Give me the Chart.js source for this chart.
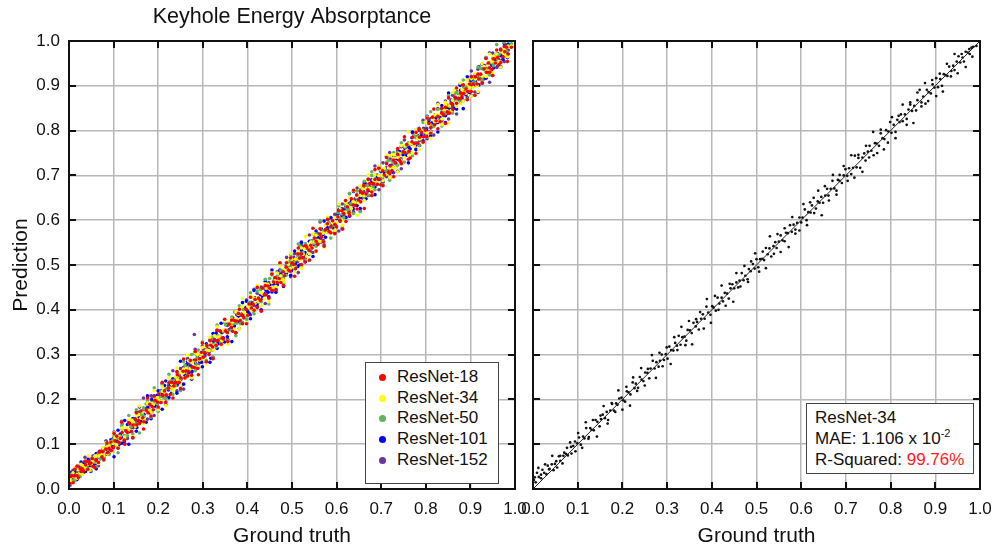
<!DOCTYPE html>
<html><head><meta charset="utf-8">
<script src="https://cdn.jsdelivr.net/npm/chart.js@4/dist/chart.umd.min.js"></script>
<style>
html,body{margin:0;padding:0;background:#fff}
body{width:995px;height:552px;overflow:hidden;position:relative;font-family:"Liberation Sans",Arial,sans-serif;color:#111}
#c1{position:absolute;left:0;top:0}
#c2{position:absolute;left:505px;top:0}
.box{position:absolute;background:#fff;border:1px solid #444;font-size:17px;color:#111;box-sizing:border-box}
#legend{left:365px;top:362px;width:134px;height:122px;padding-top:4px}
#legend .row{height:20.7px;line-height:20.7px;position:relative;padding-left:31px;white-space:nowrap}
#legend .dot{position:absolute;left:13px;top:7px;width:7px;height:7px;border-radius:50%}
#note{left:806px;top:403px;width:168px;height:71px;padding:4px 0 0 8px;line-height:20.5px;white-space:nowrap}
#note sup{font-size:11px;vertical-align:0;position:relative;top:-7px}
</style>
</head><body>
<canvas id="c1" width="539" height="552"></canvas>
<canvas id="c2" width="499" height="552"></canvas>
<div id="legend" class="box"></div>
<div id="note" class="box"></div>
<script>
const chartTitle = 'Keyhole Energy Absorptance';
const xTitle = 'Ground truth';
const yTitle = 'Prediction';
const modelNames = ['ResNet-18','ResNet-34','ResNet-50','ResNet-101','ResNet-152'];
const modelColors = ['#ff0000','#ffff00','#5fb55a','#0000ff','#6a35a0'];
const tickLabels = ['0.0','0.1','0.2','0.3','0.4','0.5','0.6','0.7','0.8','0.9','1.0'];
const noteModel = 'ResNet-34';
const noteMAE = ['1.106', '-2'];
const noteR2 = '99.76%';
const identityLine = [0, 1];

const groundTruth = [
0.002,0.006,0.009,0.013,0.018,0.021,0.025,0.030,0.033,0.037,0.042,0.046,
0.049,0.054,0.058,0.061,0.066,0.070,0.074,0.078,0.083,0.086,0.090,0.095,
0.099,0.103,0.107,0.112,0.115,0.119,0.124,0.128,0.131,0.136,0.140,0.144,
0.149,0.152,0.156,0.161,0.165,0.168,0.173,0.177,0.181,0.186,0.189,0.193,
0.198,0.202,0.206,0.210,0.214,0.218,0.223,0.227,0.230,0.235,0.239,0.243,
0.247,0.251,0.256,0.260,0.263,0.268,0.272,0.276,0.281,0.284,0.288,0.293,
0.297,0.301,0.305,0.309,0.314,0.318,0.322,0.326,0.330,0.334,0.339,0.343,
0.346,0.351,0.355,0.359,0.364,0.367,0.371,0.376,0.380,0.384,0.388,0.392,
0.397,0.401,0.404,0.409,0.413,0.417,0.422,0.425,0.429,0.434,0.438,0.442,
0.446,0.450,0.455,0.459,0.462,0.467,0.471,0.475,0.480,0.483,0.487,0.492,
0.496,0.500,0.504,0.508,0.513,0.517,0.521,0.525,0.529,0.533,0.538,0.542,
0.545,0.550,0.554,0.558,0.563,0.566,0.570,0.575,0.579,0.583,0.587,0.591,
0.596,0.600,0.603,0.608,0.612,0.616,0.621,0.624,0.628,0.633,0.637,0.641,
0.645,0.649,0.654,0.658,0.661,0.666,0.670,0.674,0.679,0.682,0.686,0.691,
0.695,0.699,0.703,0.707,0.712,0.716,0.720,0.724,0.728,0.732,0.737,0.741,
0.744,0.749,0.753,0.757,0.762,0.765,0.769,0.774,0.778,0.782,0.786,0.790,
0.795,0.799,0.802,0.807,0.811,0.815,0.820,0.823,0.827,0.832,0.836,0.840,
0.844,0.848,0.853,0.857,0.860,0.865,0.869,0.873,0.878,0.881,0.885,0.890,
0.894,0.898,0.902,0.906,0.911,0.915,0.919,0.923,0.927,0.931,0.936,0.940,
0.943,0.948,0.952,0.956,0.961,0.964,0.968,0.973,0.977,0.981,0.985,0.992,
0.004,0.012,0.018,0.027,0.036,0.043,0.052,0.061,0.068,0.076,0.085,0.094,
0.101,0.110,0.118,0.125,0.134,0.143,0.151,0.158,0.167,0.176,0.184,0.191,
0.200,0.209,0.217,0.224,0.233,0.242,0.250,0.257,0.266,0.275,0.283,0.290,
0.299,0.308,0.316,0.323,0.332,0.341,0.349,0.356,0.365,0.374,0.382,0.389,
0.398,0.407,0.415,0.422,0.431,0.440,0.448,0.455,0.464,0.473,0.481,0.488,
0.497,0.506,0.514,0.521,0.530,0.539,0.547,0.554,0.563,0.572,0.580,0.587,
0.596,0.605,0.613,0.620,0.629,0.638,0.646,0.653,0.662,0.671,0.679,0.686,
0.695,0.704,0.712,0.719,0.728,0.737,0.745,0.752,0.761,0.770,0.778,0.785,
0.794,0.803,0.811,0.818,0.827,0.836,0.844,0.851,0.860,0.869,0.877,0.884,
0.893,0.902,0.910,0.917,0.926,0.935,0.943,0.950,0.959,0.968,0.976,0.983];

const predResNet18 = [
0.012,0.030,0.014,0.044,0.030,0.025,0.045,0.045,0.040,0.054,0.044,0.056,
0.058,0.050,0.048,0.064,0.059,0.084,0.072,0.065,0.089,0.081,0.091,0.086,
0.093,0.107,0.118,0.104,0.113,0.126,0.109,0.130,0.126,0.145,0.129,0.143,
0.155,0.143,0.153,0.174,0.159,0.150,0.176,0.170,0.189,0.184,0.177,0.198,
0.194,0.212,0.193,0.209,0.219,0.210,0.225,0.211,0.238,0.230,0.238,0.255,
0.238,0.248,0.263,0.248,0.264,0.262,0.287,0.272,0.271,0.288,0.269,0.291,
0.305,0.294,0.304,0.320,0.300,0.321,0.317,0.332,0.321,0.332,0.352,0.337,
0.335,0.353,0.349,0.368,0.361,0.352,0.376,0.375,0.392,0.376,0.389,0.382,
0.401,0.388,0.413,0.404,0.412,0.423,0.405,0.426,0.421,0.448,0.434,0.433,
0.453,0.448,0.443,0.462,0.472,0.461,0.470,0.461,0.485,0.476,0.495,0.489,
0.486,0.505,0.501,0.492,0.525,0.515,0.525,0.516,0.507,0.540,0.533,0.544,
0.538,0.560,0.553,0.546,0.569,0.562,0.552,0.578,0.592,0.575,0.585,0.599,
0.591,0.585,0.607,0.599,0.621,0.615,0.597,0.630,0.617,0.648,0.634,0.633,
0.656,0.645,0.641,0.660,0.678,0.659,0.668,0.682,0.663,0.681,0.691,0.680,
0.692,0.679,0.710,0.701,0.726,0.707,0.721,0.711,0.734,0.728,0.747,0.734,
0.730,0.753,0.751,0.769,0.754,0.739,0.775,0.771,0.796,0.772,0.785,0.797,
0.786,0.801,0.787,0.816,0.807,0.830,0.813,0.822,0.832,0.820,0.839,0.835,
0.852,0.842,0.839,0.861,0.858,0.875,0.861,0.872,0.884,0.877,0.883,0.893,
0.887,0.904,0.887,0.904,0.920,0.904,0.915,0.926,0.906,0.938,0.930,0.951,
0.940,0.936,0.960,0.951,0.963,0.947,0.980,0.965,0.976,0.986,0.971,0.986,
0.028,0.029,0.051,0.039,0.062,0.062,0.068,0.065,0.082,0.083,0.103,0.105,
0.124,0.091,0.149,0.100,0.148,0.115,0.170,0.147,0.134,0.203,0.163,0.207,
0.183,0.238,0.194,0.237,0.203,0.262,0.224,0.290,0.252,0.254,0.307,0.255,
0.326,0.284,0.331,0.291,0.354,0.323,0.379,0.329,0.377,0.349,0.401,0.369,
0.369,0.428,0.399,0.450,0.397,0.454,0.426,0.480,0.445,0.505,0.454,0.505,
0.516,0.475,0.538,0.501,0.543,0.511,0.582,0.531,0.581,0.542,0.602,0.572,
0.570,0.621,0.580,0.644,0.611,0.667,0.625,0.665,0.626,0.691,0.655,0.713,
0.716,0.677,0.740,0.704,0.697,0.760,0.726,0.786,0.736,0.785,0.749,0.803,
0.774,0.828,0.794,0.848,0.804,0.850,0.816,0.873,0.848,0.895,0.871,0.902,
0.869,0.920,0.879,0.926,0.906,0.961,0.930,0.923,0.980,0.952,0.988,0.954];

const predResNet34 = [
0.020,0.015,0.036,0.027,0.024,0.043,0.036,0.033,0.052,0.045,0.055,0.042,
0.056,0.048,0.073,0.063,0.057,0.081,0.078,0.075,0.104,0.079,0.096,0.084,
0.102,0.115,0.099,0.117,0.113,0.136,0.112,0.136,0.132,0.131,0.154,0.150,
0.140,0.156,0.166,0.158,0.172,0.154,0.175,0.190,0.175,0.191,0.188,0.202,
0.204,0.198,0.195,0.218,0.216,0.211,0.238,0.225,0.235,0.226,0.250,0.244,
0.241,0.260,0.259,0.247,0.269,0.286,0.269,0.283,0.273,0.286,0.300,0.288,
0.301,0.291,0.318,0.310,0.309,0.326,0.320,0.342,0.322,0.339,0.340,0.331,
0.355,0.354,0.348,0.371,0.363,0.373,0.356,0.380,0.390,0.380,0.407,0.394,
0.389,0.408,0.405,0.398,0.427,0.414,0.427,0.419,0.438,0.436,0.425,0.448,
0.457,0.448,0.461,0.450,0.465,0.482,0.466,0.476,0.468,0.491,0.486,0.502,
0.492,0.513,0.495,0.513,0.514,0.511,0.538,0.524,0.537,0.519,0.542,0.551,
0.538,0.552,0.566,0.555,0.553,0.572,0.571,0.589,0.574,0.590,0.579,0.594,
0.606,0.595,0.606,0.624,0.600,0.618,0.617,0.633,0.650,0.626,0.642,0.639,
0.652,0.639,0.655,0.670,0.655,0.670,0.688,0.671,0.666,0.690,0.688,0.683,
0.700,0.714,0.699,0.716,0.703,0.717,0.744,0.718,0.739,0.717,0.740,0.749,
0.733,0.753,0.766,0.755,0.745,0.772,0.771,0.766,0.794,0.783,0.781,0.801,
0.798,0.819,0.795,0.813,0.797,0.824,0.819,0.836,0.821,0.836,0.826,0.847,
0.858,0.844,0.855,0.845,0.868,0.891,0.863,0.876,0.860,0.891,0.886,0.883,
0.903,0.896,0.917,0.897,0.915,0.900,0.926,0.924,0.922,0.943,0.933,0.945,
0.935,0.954,0.966,0.952,0.963,0.954,0.976,0.974,0.971,0.985,0.987,0.989,
0.026,0.047,0.032,0.055,0.044,0.074,0.062,0.074,0.074,0.092,0.094,0.106,
0.125,0.092,0.149,0.116,0.154,0.117,0.164,0.185,0.146,0.192,0.172,0.220,
0.177,0.228,0.186,0.249,0.219,0.270,0.231,0.268,0.299,0.248,0.304,0.274,
0.316,0.279,0.339,0.310,0.362,0.321,0.375,0.323,0.379,0.395,0.358,0.424,
0.371,0.431,0.400,0.454,0.409,0.458,0.418,0.482,0.452,0.498,0.462,0.508,
0.526,0.485,0.530,0.493,0.564,0.525,0.569,0.529,0.582,0.540,0.607,0.570,
0.577,0.636,0.589,0.640,0.616,0.666,0.611,0.676,0.644,0.701,0.657,0.701,
0.721,0.688,0.745,0.695,0.746,0.708,0.766,0.740,0.797,0.750,0.802,0.758,
0.773,0.830,0.783,0.833,0.858,0.813,0.863,0.817,0.885,0.854,0.906,0.866,
0.913,0.877,0.927,0.887,0.949,0.921,0.971,0.928,0.971,0.942,0.982,0.965];

const predResNet50 = [
0.030,0.019,0.029,0.019,0.043,0.032,0.028,0.052,0.042,0.051,0.047,0.058,
0.041,0.061,0.059,0.050,0.080,0.067,0.079,0.072,0.092,0.088,0.077,0.101,
0.110,0.101,0.113,0.103,0.118,0.134,0.119,0.129,0.119,0.144,0.139,0.154,
0.145,0.165,0.147,0.166,0.166,0.162,0.190,0.176,0.189,0.172,0.193,0.202,
0.191,0.204,0.218,0.207,0.204,0.224,0.224,0.241,0.225,0.242,0.231,0.246,
0.257,0.246,0.259,0.276,0.251,0.270,0.268,0.285,0.303,0.277,0.293,0.291,
0.304,0.291,0.306,0.321,0.308,0.322,0.340,0.323,0.317,0.342,0.341,0.335,
0.351,0.366,0.351,0.368,0.355,0.368,0.395,0.370,0.391,0.369,0.391,0.400,
0.386,0.405,0.417,0.407,0.396,0.424,0.424,0.417,0.445,0.435,0.433,0.453,
0.449,0.470,0.448,0.465,0.448,0.476,0.470,0.488,0.474,0.487,0.477,0.499,
0.510,0.496,0.506,0.496,0.521,0.543,0.515,0.528,0.511,0.543,0.539,0.535,
0.554,0.548,0.569,0.549,0.567,0.551,0.577,0.576,0.574,0.595,0.584,0.596,
0.588,0.606,0.617,0.604,0.614,0.606,0.629,0.625,0.622,0.637,0.639,0.638,
0.652,0.643,0.669,0.660,0.652,0.677,0.674,0.671,0.700,0.675,0.692,0.680,
0.698,0.711,0.695,0.712,0.710,0.733,0.708,0.732,0.729,0.727,0.751,0.747,
0.735,0.753,0.763,0.754,0.769,0.751,0.771,0.787,0.772,0.787,0.785,0.799,
0.801,0.795,0.791,0.815,0.813,0.808,0.835,0.821,0.832,0.823,0.847,0.841,
0.838,0.857,0.856,0.844,0.866,0.883,0.866,0.880,0.870,0.883,0.897,0.885,
0.898,0.888,0.915,0.907,0.906,0.923,0.917,0.939,0.919,0.936,0.937,0.928,
0.952,0.951,0.945,0.968,0.960,0.970,0.953,0.977,0.987,0.977,0.990,0.994,
0.032,0.020,0.049,0.046,0.062,0.055,0.069,0.070,0.080,0.087,0.103,0.101,
0.118,0.081,0.141,0.112,0.164,0.123,0.177,0.125,0.181,0.197,0.160,0.226,
0.173,0.233,0.202,0.256,0.211,0.260,0.220,0.284,0.254,0.300,0.264,0.310,
0.328,0.287,0.332,0.295,0.366,0.327,0.371,0.331,0.384,0.342,0.409,0.372,
0.379,0.438,0.391,0.442,0.418,0.468,0.413,0.478,0.446,0.503,0.459,0.503,
0.523,0.490,0.547,0.497,0.548,0.510,0.568,0.542,0.599,0.552,0.604,0.560,
0.575,0.632,0.585,0.635,0.660,0.615,0.665,0.619,0.687,0.656,0.708,0.668,
0.715,0.679,0.729,0.689,0.751,0.723,0.773,0.730,0.773,0.744,0.784,0.767,
0.818,0.785,0.842,0.809,0.847,0.810,0.857,0.878,0.839,0.885,0.865,0.913,
0.870,0.921,0.879,0.942,0.912,0.963,0.924,0.961,0.992,0.941,0.997,0.967];

const predResNet101 = [
0.017,0.036,0.017,0.032,0.021,0.047,0.039,0.039,0.057,0.039,0.060,0.053,
0.039,0.059,0.055,0.045,0.078,0.068,0.078,0.069,0.107,0.093,0.085,0.097,
0.092,0.113,0.106,0.100,0.121,0.115,0.106,0.131,0.144,0.128,0.138,0.152,
0.144,0.137,0.160,0.152,0.174,0.167,0.149,0.183,0.170,0.201,0.186,0.185,
0.209,0.198,0.193,0.212,0.231,0.211,0.221,0.235,0.214,0.234,0.244,0.232,
0.244,0.231,0.263,0.254,0.277,0.259,0.273,0.263,0.287,0.280,0.298,0.286,
0.283,0.305,0.303,0.321,0.306,0.292,0.328,0.323,0.348,0.324,0.338,0.350,
0.337,0.353,0.340,0.368,0.360,0.382,0.364,0.375,0.385,0.372,0.391,0.387,
0.405,0.395,0.390,0.413,0.411,0.427,0.414,0.424,0.435,0.430,0.436,0.445,
0.439,0.456,0.440,0.457,0.471,0.456,0.467,0.478,0.459,0.490,0.481,0.503,
0.493,0.488,0.512,0.503,0.515,0.500,0.533,0.517,0.528,0.538,0.524,0.536,
0.554,0.546,0.544,0.561,0.556,0.580,0.568,0.562,0.585,0.578,0.588,0.582,
0.590,0.604,0.614,0.600,0.610,0.623,0.606,0.626,0.623,0.642,0.626,0.640,
0.651,0.640,0.651,0.671,0.655,0.648,0.673,0.667,0.687,0.680,0.674,0.696,
0.691,0.709,0.690,0.706,0.717,0.708,0.722,0.708,0.736,0.727,0.736,0.753,
0.735,0.746,0.760,0.745,0.763,0.759,0.784,0.770,0.768,0.786,0.767,0.788,
0.803,0.792,0.801,0.818,0.797,0.818,0.815,0.829,0.818,0.830,0.849,0.834,
0.833,0.850,0.847,0.866,0.857,0.850,0.874,0.872,0.890,0.873,0.886,0.880,
0.898,0.885,0.911,0.901,0.910,0.921,0.902,0.924,0.919,0.945,0.932,0.931,
0.950,0.946,0.940,0.959,0.971,0.958,0.967,0.959,0.982,0.974,0.993,0.989,
0.023,0.038,0.030,0.060,0.053,0.067,0.063,0.079,0.075,0.090,0.089,0.110,
0.072,0.131,0.102,0.153,0.100,0.157,0.129,0.183,0.148,0.208,0.157,0.208,
0.219,0.178,0.241,0.204,0.246,0.214,0.285,0.234,0.284,0.245,0.305,0.275,
0.273,0.324,0.283,0.347,0.314,0.370,0.328,0.368,0.329,0.394,0.358,0.416,
0.419,0.380,0.443,0.407,0.400,0.463,0.429,0.489,0.439,0.488,0.452,0.506,
0.477,0.531,0.497,0.551,0.507,0.553,0.519,0.576,0.551,0.598,0.574,0.605,
0.572,0.623,0.582,0.629,0.609,0.664,0.633,0.626,0.683,0.655,0.691,0.657,
0.718,0.685,0.743,0.694,0.742,0.709,0.764,0.741,0.728,0.797,0.757,0.801,
0.777,0.832,0.788,0.831,0.797,0.856,0.818,0.884,0.846,0.848,0.901,0.849,
0.920,0.878,0.925,0.885,0.948,0.917,0.973,0.923,0.971,0.943,0.995,0.963];

const predResNet152 = [
0.008,0.022,0.042,0.023,0.039,0.029,0.053,0.042,0.037,0.060,0.051,0.062,
0.052,0.074,0.051,0.067,0.052,0.079,0.073,0.091,0.077,0.090,0.080,0.102,
0.113,0.099,0.109,0.100,0.123,0.145,0.118,0.131,0.113,0.146,0.141,0.137,
0.158,0.150,0.171,0.152,0.169,0.153,0.180,0.178,0.176,0.198,0.186,0.198,
0.190,0.208,0.220,0.206,0.216,0.208,0.231,0.228,0.224,0.239,0.241,0.240,
0.254,0.245,0.271,0.262,0.254,0.279,0.276,0.273,0.345,0.277,0.294,0.282,
0.300,0.313,0.297,0.314,0.312,0.335,0.310,0.334,0.331,0.329,0.353,0.349,
0.337,0.355,0.365,0.356,0.371,0.353,0.373,0.389,0.374,0.389,0.387,0.401,
0.403,0.397,0.393,0.417,0.415,0.410,0.437,0.423,0.434,0.425,0.449,0.443,
0.440,0.459,0.458,0.446,0.468,0.485,0.468,0.482,0.472,0.485,0.499,0.487,
0.500,0.490,0.517,0.509,0.508,0.525,0.519,0.541,0.521,0.538,0.539,0.530,
0.554,0.553,0.547,0.570,0.562,0.572,0.555,0.579,0.589,0.579,0.606,0.593,
0.588,0.607,0.604,0.597,0.626,0.613,0.626,0.618,0.637,0.635,0.624,0.647,
0.656,0.647,0.660,0.649,0.664,0.681,0.665,0.675,0.667,0.690,0.685,0.701,
0.691,0.712,0.694,0.712,0.713,0.710,0.737,0.723,0.736,0.718,0.741,0.750,
0.737,0.751,0.765,0.754,0.752,0.771,0.770,0.788,0.773,0.789,0.778,0.793,
0.805,0.794,0.805,0.823,0.799,0.817,0.816,0.832,0.849,0.825,0.841,0.838,
0.851,0.838,0.854,0.869,0.854,0.869,0.887,0.870,0.865,0.889,0.887,0.882,
0.899,0.913,0.898,0.915,0.902,0.916,0.943,0.917,0.938,0.916,0.939,0.948,
0.932,0.952,0.965,0.954,0.944,0.971,0.970,0.965,0.993,0.982,0.980,0.988,
0.037,0.029,0.042,0.049,0.071,0.057,0.066,0.065,0.084,0.086,0.098,0.100,
0.127,0.094,0.151,0.101,0.152,0.114,0.172,0.146,0.203,0.156,0.208,0.164,
0.179,0.236,0.189,0.239,0.264,0.219,0.269,0.223,0.291,0.260,0.312,0.272,
0.319,0.283,0.333,0.293,0.355,0.327,0.377,0.334,0.377,0.348,0.388,0.371,
0.422,0.389,0.446,0.413,0.451,0.414,0.461,0.482,0.443,0.489,0.469,0.517,
0.474,0.525,0.483,0.546,0.516,0.567,0.528,0.565,0.596,0.545,0.601,0.571,
0.613,0.576,0.636,0.607,0.659,0.618,0.672,0.620,0.676,0.692,0.655,0.721,
0.668,0.728,0.697,0.751,0.706,0.755,0.715,0.779,0.749,0.795,0.759,0.805,
0.823,0.782,0.827,0.790,0.861,0.822,0.866,0.826,0.879,0.837,0.904,0.867,
0.874,0.933,0.886,0.937,0.913,0.963,0.908,0.973,0.941,0.982,0.954,0.991];

const allPreds = [predResNet18, predResNet34, predResNet50, predResNet101, predResNet152];
const toPoints = (xs, ys) => xs.map((x, i) => ({x: x, y: ys[i]}));

Chart.defaults.font.family = "'Liberation Sans', Arial, sans-serif";
Chart.defaults.color = '#111';

const framePlugin = {
  id: 'frameTicks',
  afterDatasetsDraw(chart) {
    const {ctx, chartArea: a} = chart;
    const xs = chart.scales.x, ys = chart.scales.y;
    ctx.save();
    ctx.strokeStyle = '#111';
    ctx.lineWidth = 2;
    ctx.beginPath();
    xs.ticks.forEach(t => {
      const px = Math.round(xs.getPixelForValue(t.value));
      ctx.moveTo(px, a.bottom); ctx.lineTo(px, a.bottom - 7);
      ctx.moveTo(px, a.top); ctx.lineTo(px, a.top + 7);
    });
    ys.ticks.forEach(t => {
      const py = Math.round(ys.getPixelForValue(t.value));
      ctx.moveTo(a.left, py); ctx.lineTo(a.left + 7, py);
      ctx.moveTo(a.right, py); ctx.lineTo(a.right - 7, py);
    });
    ctx.stroke();
    ctx.strokeRect(a.left, a.top, a.right - a.left, a.bottom - a.top);
    ctx.restore();
  }
};

function makeScales(showY, yWidth) {
  const grid = {color: '#b8b8b8', lineWidth: 1.5, drawTicks: false};
  return {
    x: {
      type: 'linear', min: 0, max: 1,
      ticks: {stepSize: 0.1, padding: 10, font: {size: 17}, color: '#111', maxRotation: 0,
              callback: (v, i) => tickLabels[i]},
      grid: grid, border: {display: false},
      title: {display: true, text: xTitle, font: {size: 21}, color: '#111', padding: {top: 0, bottom: 3}},
      afterFit: s => { s.height = 63; }
    },
    y: {
      type: 'linear', min: 0, max: 1,
      ticks: {display: showY, stepSize: 0.1, padding: 9, font: {size: 17}, color: '#111',
              callback: (v, i) => tickLabels[i]},
      grid: grid, border: {display: false},
      title: {display: showY, text: yTitle, font: {size: 21}, color: '#111', padding: {top: 9, bottom: 0}},
      afterFit: s => { s.width = yWidth; }
    }
  };
}

const leftDatasets = modelNames.map((name, i) => ({
  label: name,
  data: toPoints(groundTruth, allPreds[i]),
  backgroundColor: modelColors[i],
  borderWidth: 0,
  pointRadius: 1.8,
  pointHoverRadius: 1.8
}));

new Chart(document.getElementById('c1'), {
  type: 'scatter',
  data: {datasets: leftDatasets},
  options: {
    responsive: false, animation: false,
    layout: {padding: {top: 0, right: 24, bottom: 0, left: 0}},
    scales: makeScales(true, 69),
    plugins: {
      legend: {display: false},
      tooltip: {enabled: false},
      title: {display: true, text: chartTitle, fullSize: false, font: {size: 21.5, weight: 'normal'},
              color: '#111', padding: {top: 4, bottom: 11.2}}
    }
  },
  plugins: [framePlugin]
});

new Chart(document.getElementById('c2'), {
  type: 'scatter',
  data: {datasets: [
    {type: 'line', label: 'y = x', data: toPoints(identityLine, identityLine),
     borderColor: '#222', borderWidth: 1, pointRadius: 0, fill: false},
    {label: noteModel, data: toPoints(groundTruth, predResNet34),
     backgroundColor: '#111', borderWidth: 0, pointRadius: 1.35, pointHoverRadius: 1.35}
  ]},
  options: {
    responsive: false, animation: false,
    layout: {padding: {top: 41, right: 24, bottom: 0, left: 0}},
    scales: makeScales(false, 28),
    plugins: {legend: {display: false}, tooltip: {enabled: false}}
  },
  plugins: [framePlugin]
});

const legendEl = document.getElementById('legend');
modelNames.forEach((name, i) => {
  const row = document.createElement('div');
  row.className = 'row';
  const dot = document.createElement('span');
  dot.className = 'dot';
  dot.style.background = modelColors[i];
  row.appendChild(dot);
  row.appendChild(document.createTextNode(name));
  legendEl.appendChild(row);
});

document.getElementById('note').innerHTML =
  '<div>' + noteModel + '</div>' +
  '<div>MAE: ' + noteMAE[0] + ' x 10<sup>' + noteMAE[1] + '</sup></div>' +
  '<div>R-Squared: <span style="color:#ff1a1a">' + noteR2 + '</span></div>';
</script>
</body></html>
